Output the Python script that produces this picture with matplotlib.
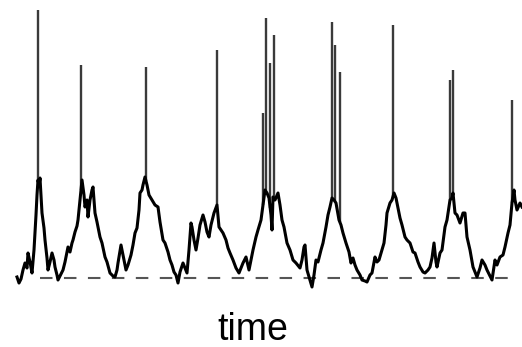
import numpy as np
import matplotlib.pyplot as plt

# trace: time index and signal level (baseline = 0)
t = [17, 19, 21, 23, 25, 27, 28, 30, 32, 34, 35, 36, 37, 38, 39, 40, 41, 42, 44, 45,
     47, 48, 50, 52, 54, 55, 57, 58, 60, 63, 65, 68, 70, 72, 73, 75, 77, 78, 80, 81,
     82, 84, 85, 87, 88, 90, 92, 93, 95, 97, 100, 102, 105, 107, 110, 113, 115, 117, 118, 121,
     123, 126, 128, 131, 133, 135, 137, 139, 140, 142, 143, 145, 147, 149, 152, 155, 158, 160, 163, 165,
     168, 170, 172, 174, 176, 178, 180, 183, 185, 187, 189, 191, 192, 194, 196, 198, 200, 203, 205, 207,
     209, 211, 214, 217, 219, 221, 223, 226, 228, 230, 233, 236, 239, 241, 243, 246, 249, 251, 253, 256,
     258, 261, 263, 265, 267, 269, 271, 272, 273, 275, 278, 280, 282, 284, 287, 290, 293, 296, 300, 302,
     304, 305, 307, 310, 312, 314, 316, 318, 321, 323, 326, 328, 330, 332, 334, 336, 339, 341, 343, 346,
     349, 351, 353, 355, 357, 360, 362, 365, 367, 370, 372, 375, 377, 379, 382, 384, 386, 387, 390, 392,
     394, 396, 397, 400, 402, 405, 407, 410, 413, 415, 418, 420, 423, 425, 428, 430, 432, 434, 436, 437,
     440, 442, 445, 447, 450, 452, 453, 455, 457, 460, 463, 465, 467, 470, 473, 475, 477, 480, 482, 485,
     487, 490, 492, 495, 497, 500, 503, 505, 508, 510, 512, 514, 515, 517, 520, 522]
signal = [1, -5, -1, 8, 15, 10, 25, 16, 5, 28, 45, 63, 83, 98, 93, 100, 83, 65, 50, 38,
          20, 8, 16, 25, 18, 11, 3, -2, 2, 8, 16, 31, 26, 35, 38, 46, 52, 58, 78, 88,
          98, 83, 71, 78, 61, 78, 88, 91, 65, 56, 41, 35, 21, 16, 5, 2, 1, 8, 15, 33,
          23, 8, 13, 23, 33, 45, 50, 68, 85, 88, 93, 101, 93, 83, 78, 73, 71, 56, 38, 35,
          26, 18, 13, 6, 3, -5, 6, 15, 10, 5, 28, 55, 51, 38, 28, 40, 53, 63, 56, 46,
          41, 53, 65, 73, 51, 48, 45, 38, 30, 25, 18, 10, 5, 10, 15, 21, 8, 18, 28, 41,
          48, 58, 73, 88, 85, 80, 63, 48, 81, 78, 85, 73, 58, 51, 35, 28, 18, 15, 10, 18,
          31, 33, 8, -2, -9, 3, 18, 16, 28, 35, 51, 63, 71, 80, 78, 75, 58, 53, 45, 35,
          26, 15, 20, 13, 8, 3, -2, -3, -4, 3, 5, 21, 16, 18, 28, 35, 53, 65, 75, 78,
          85, 80, 75, 60, 53, 41, 38, 35, 26, 25, 16, 11, 6, 5, 8, 11, 20, 35, 16, 11,
          25, 28, 51, 58, 78, 80, 85, 65, 63, 55, 65, 65, 41, 28, 11, 6, 1, 10, 18, 13,
          8, 2, -2, 18, 13, 21, 23, 31, 45, 53, 75, 88, 78, 68, 75, 71]

# spikes: time, level where they leave the trace, peak level
spike_t = [38, 81, 146, 217, 263, 266, 270, 274, 332, 335, 340, 393, 450, 453, 512]
spike_base = [98, 88, 97, 73, 73, 86, 70, 80, 80, 77, 56, 80, 78, 85, 75]
spike_top = [268, 213, 211, 228, 165, 260, 215, 243, 256, 233, 206, 253, 198, 208, 178]

fig = plt.figure(figsize=(5.22, 3.47), dpi=100)
ax = fig.add_axes([0, 0, 1, 1])

ax.hlines(0, 40, 512, colors='#555555', lw=1.5, linestyles=(0, (6, 5.5)))
ax.vlines(spike_t, spike_base, spike_top, colors='#3a3a3a', lw=1.7)
ax.plot(t, signal, color='black', lw=2.2)

ax.text(253, -62, 'time', ha='center', va='baseline', fontsize=27,
        family='Liberation Sans')

ax.set_xlim(0, 522)
ax.set_ylim(-69, 278)
ax.axis('off')

plt.savefig('out.png', dpi=100)
